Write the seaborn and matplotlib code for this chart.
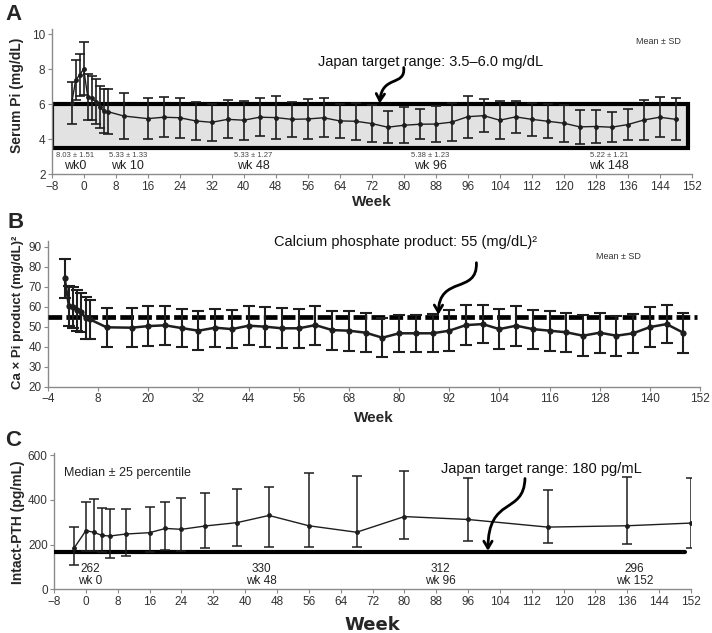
import matplotlib
matplotlib.use("Agg")
import matplotlib.pyplot as plt
import seaborn as sns
from matplotlib.patches import Rectangle, FancyArrowPatch
from matplotlib.path import Path

# Panel A: serum Pi (mean, SD)
weeks_a = [-3, -2, -1, 0, 1, 2, 3, 4, 5, 6, 10, 16, 20, 24, 28, 32, 36, 40, 44, 48,
           52, 56, 60, 64, 68, 72, 76, 80, 84, 88, 92, 96, 100, 104, 108, 112, 116,
           120, 124, 128, 132, 136, 140, 144, 148]
pi_mean = [6.06, 7.39, 7.67, 8.03, 6.43, 6.34, 6.15, 5.86, 5.60, 5.58, 5.33, 5.18,
           5.26, 5.23, 5.05, 4.97, 5.14, 5.09, 5.26, 5.24, 5.14, 5.16, 5.23, 5.05,
           5.03, 4.90, 4.69, 4.80, 4.86, 4.87, 4.98, 5.29, 5.35, 5.09, 5.28, 5.14,
           5.03, 4.92, 4.71, 4.73, 4.69, 4.84, 5.10, 5.26, 5.14]
pi_sd = [1.20, 1.15, 1.20, 1.51, 1.30, 1.25, 1.30, 1.20, 1.25, 1.30, 1.33, 1.15,
         1.15, 1.15, 1.08, 1.07, 1.08, 1.12, 1.07, 1.25, 1.00, 1.15, 1.10, 0.95,
         1.05, 1.07, 0.93, 1.03, 0.85, 1.05, 1.09, 1.20, 0.94, 1.09, 0.91, 0.95,
         0.97, 1.05, 0.96, 0.93, 0.85, 0.90, 1.15, 1.13, 1.19]
pi_range = (3.5, 6.0)
pi_notes = [(-2.2, "8.03 ± 1.51", "wk0"), (11, "5.33 ± 1.33", "wk 10"),
            (42.3, "5.33 ± 1.27", "wk 48"), (86.6, "5.38 ± 1.23", "wk 96"),
            (131.3, "5.22 ± 1.21", "wk 148")]

# Panel B: Ca x Pi product (mean, SD)
weeks_b = [0, 1, 2, 3, 4, 5, 6, 10, 16, 20, 24, 28, 32, 36, 40, 44, 48, 52, 56, 60,
           64, 68, 72, 76, 80, 84, 88, 92, 96, 100, 104, 108, 112, 116, 120, 124,
           128, 132, 136, 140, 144, 148]
cap_mean = [74.2, 60.3, 59.7, 58.3, 57.2, 54.2, 53.7, 49.7, 49.5, 50.3, 50.7, 49.3,
            48.0, 49.5, 48.8, 50.5, 50.0, 49.2, 49.2, 50.8, 48.3, 48.0, 47.0, 44.5,
            46.7, 46.7, 46.7, 48.0, 50.8, 51.3, 48.8, 50.5, 48.8, 48.0, 47.2, 45.5,
            47.0, 45.5, 46.7, 49.8, 51.3, 47.0]
cap_sd = [9.9, 9.9, 10.3, 10.2, 9.8, 10.5, 9.9, 9.9, 9.8, 9.9, 9.8, 9.6, 9.8, 9.6,
          9.6, 9.8, 10.0, 10.0, 9.7, 9.8, 9.8, 9.9, 9.8, 9.7, 9.4, 9.4, 9.5, 10.2,
          10.0, 9.6, 9.9, 9.9, 9.8, 10.0, 9.8, 10.2, 9.9, 10.1, 9.8, 10.0, 9.6, 9.9]
cap_target = 55

# Panel C: intact-PTH (median, 25th and 75th percentile)
weeks_c = [-3, 0, 2, 4, 6, 10, 16, 20, 24, 30, 38, 46, 56, 68, 80, 96, 116, 136, 152]
pth_med = [183, 262, 255, 241, 238, 247, 253, 272, 268, 283, 298, 330, 284, 255,
           325, 312, 278, 284, 296]
pth_q1 = [108, 172, 170, 167, 140, 150, 165, 176, 170, 183, 193, 190, 190, 188,
          225, 216, 205, 201, 186]
pth_q3 = [280, 390, 403, 365, 358, 360, 369, 390, 407, 429, 447, 456, 518, 506,
          529, 499, 444, 503, 496]
pth_target = 165
pth_notes = [(1, "262", "wk 0"), (44, "330", "wk 48"), (89, "312", "wk 96"),
             (137.8, "296", "wk 152")]

sns.set_theme(style="ticks")
plt.rcParams["font.family"] = ["Liberation Sans", "DejaVu Sans"]

INK = "#1e1e1e"
SPINE = "#8a8a8a"

fig = plt.figure(figsize=(7.12, 6.33), dpi=100)


def style_axes(ax):
    for side in ("top", "right"):
        ax.spines[side].set_visible(False)
    for side in ("left", "bottom"):
        ax.spines[side].set_color(SPINE)
        ax.spines[side].set_linewidth(1.0)
    ax.tick_params(axis="both", direction="out", length=3, width=0.8,
                   color=SPINE, labelsize=8.5, labelcolor="#333333", pad=1.5)
    ax.set_xlabel("")
    ax.set_ylabel("")


def curved_arrow(ax, pts):
    path = Path(pts, [Path.MOVETO, Path.CURVE4, Path.CURVE4, Path.CURVE4])
    arrow = FancyArrowPatch(path=path, arrowstyle="->,head_length=5,head_width=3",
                            lw=2, color="black", transform=ax.transData, zorder=6)
    ax.add_patch(arrow)


def draw_series(ax, x, y, lo, hi, lw, ms, elw, cap):
    ax.errorbar(x, y, yerr=[lo, hi], fmt="none", ecolor=INK, elinewidth=elw,
                capsize=cap, capthick=elw, zorder=4)
    sns.lineplot(x=x, y=y, ax=ax, color=INK, lw=lw, marker="o", markersize=ms,
                 markeredgewidth=0, zorder=5)


# ---- A ----
ax = fig.add_axes([51.7 / 712, 1 - 174.3 / 633, 640 / 712, 145.3 / 633])
ax.add_patch(Rectangle((-8, pi_range[0]), 159, pi_range[1] - pi_range[0],
                       facecolor="#e2e2e2", edgecolor="black", lw=3, zorder=2))
draw_series(ax, weeks_a, pi_mean, pi_sd, pi_sd, 1.0, 3.5, 1.2, 3.5)
ax.set_xlim(-8, 152)
ax.set_ylim(2, 10.3)
ax.set_xticks(range(-8, 153, 8))
ax.set_yticks([2, 4, 6, 8, 10])
style_axes(ax)
for x, stat, wk in pi_notes:
    ax.text(x, 3.1, stat, ha="center", va="center", fontsize=5.5, color="#444444")
    ax.text(x, 2.5, wk, ha="center", va="center", fontsize=9, color="#222222")
ax.text(86.6, 8.41, "Japan target range: 3.5–6.0 mg/dL", ha="center", va="center",
        fontsize=10.5, color="#111111")
ax.text(143.6, 9.56, "Mean ± SD", ha="center", va="center", fontsize=6.5, color="#333333")
curved_arrow(ax, [(80, 8.1), (80.5, 7.0), (74.5, 7.7), (74, 6.05)])
ax.set_xlabel("Week", fontsize=11, fontweight="bold", labelpad=2)
fig.text(17 / 712, 1 - 95 / 633, "Serum Pi (mg/dL)", rotation=90, ha="center",
         va="center", fontsize=10, fontweight="bold")
fig.text(14 / 712, 1 - 15 / 633, "A", ha="center", va="center", fontsize=16,
         fontweight="bold")

# ---- B ----
ax = fig.add_axes([48 / 712, 1 - 386.7 / 633, 652 / 712, 146 / 633])
ax.axhline(cap_target, xmin=0, xmax=0.995, color="black", lw=3.4,
           linestyle=(0, (2.9, 0.9)), zorder=3)
draw_series(ax, weeks_b, cap_mean, cap_sd, cap_sd, 1.8, 4.5, 1.5, 4)
ax.set_xlim(-4, 152)
ax.set_ylim(20, 93)
ax.set_xticks(range(-4, 153, 12))
ax.set_yticks(range(20, 91, 10))
style_axes(ax)
ax.text(81.5, 92.3, "Calcium phosphate product: 55 (mg/dL)²", ha="center",
        va="center", fontsize=10.5, color="#111111")
ax.text(132.4, 85.3, "Mean ± SD", ha="center", va="center", fontsize=6.5, color="#333333")
curved_arrow(ax, [(98.5, 82), (98.8, 66), (89.5, 76), (89.4, 56)])
ax.set_xlabel("Week", fontsize=11, fontweight="bold", labelpad=4)
fig.text(18 / 712, 1 - 312 / 633, "Ca × Pi product (mg/dL)²", rotation=90,
         ha="center", va="center", fontsize=9.5, fontweight="bold")
fig.text(16 / 712, 1 - 222 / 633, "B", ha="center", va="center", fontsize=16,
         fontweight="bold")

# ---- C ----
ax = fig.add_axes([54 / 712, 1 - 589.3 / 633, 637 / 712, 136.5 / 633])
ax.plot([-8, 150.6], [pth_target, pth_target], color="black", lw=3, zorder=3)
lo = [m - q for m, q in zip(pth_med, pth_q1)]
hi = [q - m for m, q in zip(pth_med, pth_q3)]
draw_series(ax, weeks_c, pth_med, lo, hi, 1.0, 3.5, 1.1, 3.5)
ax.set_xlim(-8, 152)
ax.set_ylim(0, 610)
ax.set_xticks(range(-8, 153, 8))
ax.set_yticks([0, 200, 400, 600])
style_axes(ax)
for x, val, wk in pth_notes:
    ax.text(x, 90, val, ha="center", va="center", fontsize=8.5, color="#222222")
    ax.text(x, 35, wk, ha="center", va="center", fontsize=8.5, color="#222222")
ax.text(10.5, 521, "Median ± 25 percentile", ha="center", va="center",
        fontsize=9, color="#222222")
ax.text(114.3, 537, "Japan target range: 180 pg/mL", ha="center", va="center",
        fontsize=10.5, color="#111111")
curved_arrow(ax, [(110.3, 495), (110, 330), (101, 420), (101, 172)])
ax.set_xlabel("Week", fontsize=13, fontweight="heavy", family="DejaVu Sans",
              labelpad=6)
fig.text(18 / 712, 1 - 522 / 633, "Intact-PTH (pg/mL)", rotation=90, ha="center",
         va="center", fontsize=10, fontweight="bold")
fig.text(13 / 712, 1 - 440 / 633, "C", ha="center", va="center", fontsize=16,
         fontweight="bold")

fig.savefig("out.png", dpi=100)
plt.close(fig)
